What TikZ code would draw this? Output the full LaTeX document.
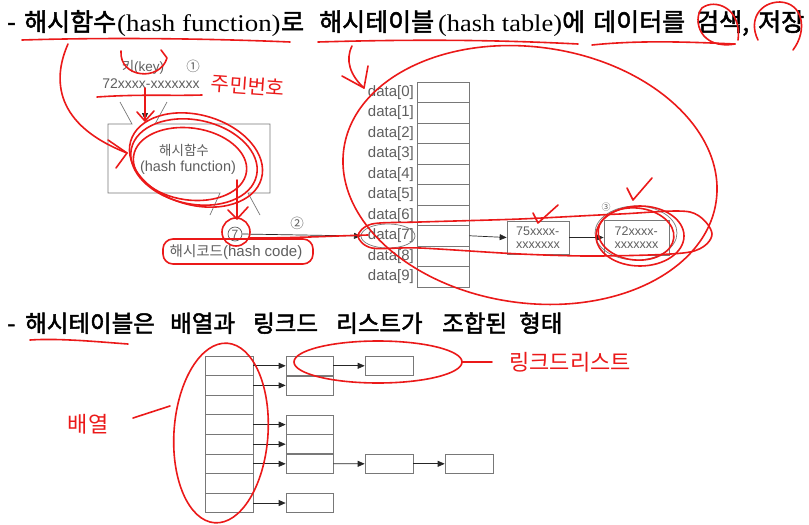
\documentclass[tikz,border=0pt]{standalone}
\usepackage{fontspec}
\setmainfont{Liberation Sans}
\newfontfamily\kr{Noto Sans CJK KR}
\newfontfamily\krb{Noto Sans CJK KR}[FakeBold=2]
\newfontfamily\tser{Liberation Serif}
\usetikzlibrary{arrows.meta}
\definecolor{txtgray}{RGB}{95,95,95}
\definecolor{linegray}{RGB}{120,120,120}
\definecolor{redc}{RGB}{235,25,25}
\tikzset{
  gt/.style={text=txtgray, font=\fontsize{15}{15}\selectfont, inner sep=0pt},
  gk/.style={text=txtgray, font=\kr\fontsize{13.5}{13.5}\selectfont, inner sep=0pt},
  cellbox/.style={draw=linegray, line width=0.7pt, inner sep=0pt},
  arr/.style={draw=black!85, line width=0.7pt, -{Triangle[length=7pt,width=6pt]}},
  rd/.style={draw=redc, line width=1.6pt, line cap=round, line join=round},
  ttl/.style={font=\krb\fontsize{25}{25}\selectfont, inner sep=0pt, anchor=base west},
  ttlb/.style={font=\krb\fontsize{23.5}{23.5}\selectfont, inner sep=0pt, anchor=base west},
  tlat/.style={font=\tser\fontsize{24}{24}\selectfont, inner sep=0pt, anchor=base west},
  hand/.style={text=redc, font=\kr\fontsize{20}{20}\selectfont, inner sep=0pt},
}
\begin{document}
\begin{tikzpicture}[x=1pt,y=-1pt]
\useasboundingbox (0,0) rectangle (809,525);
\fill[white] (0,0) rectangle (809,525);

% ---------- title line 1
\node[ttl] (t0) at (7,31) {-};
\node[ttl] (t1) at (24,31) {해시함수};
\node[tlat] (t2) at (117,31) {\scalebox{1.12}[1]{(hash function)}};
\node[ttl] (t3) at (281,31) {로};
\node[ttl] (t4) at (319,31) {해시테이블};
\node[tlat] (t5) at (438,31) {\scalebox{1.1}[1]{(hash table)}};
\node[ttl] (t6) at (562,31) {에};
\node[ttl] (t7) at (593,31) {데이터를};
\node[ttl] (t8) at (696,31) {검색,};
\node[ttl] (t9) at (758,31) {저장};

% ---------- key and hash function
\node[gk] (key) at (143,67) {키{\fontspec{Liberation Sans}(key)}};
\node[gk] (c1) at (193,66) {①};
\node[gt, font=\fontsize{14}{14}\selectfont] (kv) at (151,84) {72xxxx-xxxxxxx};
\coordinate (kin) at (145,120);
\draw[arr] (145,96) -- (kin);

\draw[linegray, line width=0.7pt] (120,102) -- (132,124) -- (108,124) -- (108,193) -- (220,193) -- (210,215);
\draw[linegray, line width=0.7pt] (167,102) -- (155,124) -- (270,124) -- (270,193) -- (248,193) -- (260,215);
\node[gk] (hf1) at (184,150) {해시함수};
\node[gt, font=\fontsize{14.5}{14.5}\selectfont] (hf2) at (188,168) {(hash function)};

\node[circle, draw=txtgray, line width=0.7pt, inner sep=1.2pt, text=txtgray, font=\fontsize{12}{12}\selectfont] (c7) at (235,234) {7};
\node[gk, font=\kr\fontsize{14.5}{14.5}\selectfont] (hc) at (236,252) {해시코드{\fontspec{Liberation Sans}\fontsize{15}{15}\selectfont(hash code)}};
\node[gk] (c2) at (297,223) {②};

% ---------- data array
\foreach \i in {0,...,9}{
  \node[cellbox, minimum width=52pt, minimum height=20.5pt] (d\i) at (443,{92.25+20.5*\i}) {};
  \node[gt, anchor=east] (l\i) at (414,{92.25+20.5*\i}) {data[\i]};
}
\draw[linegray, line width=0.7pt] (388,236) ellipse (27 and 12);
\coordinate (l7in) at (361,236);
\draw[arr] (c7.east) -- (l7in);

\node[cellbox, minimum width=62pt, minimum height=33pt, align=left, text=txtgray,
      font=\fontsize{12.5}{12.5}\selectfont] (e1) at (538,237.5) {75xxxx-\\xxxxxxx};
\node[cellbox, minimum width=65pt, minimum height=35pt, align=left, text=txtgray,
      font=\fontsize{12.5}{12.5}\selectfont] (e2) at (636.5,237.5) {72xxxx-\\xxxxxxx};
\draw[linegray, line width=0.7pt] (636,233) ellipse (41 and 27);
\node[gk, font=\kr\fontsize{9}{9}\selectfont] (c3) at (606,207) {③};
\draw[arr] (d7.east) -- (e1.west);
\draw[arr] (e1.east) -- (e2.west);

% ---------- title line 2
\node[ttlb] (s0) at (7,332) {-};
\node[ttlb] (s1) at (25,332) {해시테이블은};
\node[ttlb] (s2) at (170,332) {배열과};
\node[ttlb] (s3) at (253,332) {링크드};
\node[ttlb] (s4) at (336,332) {리스트가};
\node[ttlb] (s5) at (442,332) {조합된};
\node[ttlb] (s6) at (519,332) {형태};

% ---------- bottom array and lists
\foreach \i in {0,...,7}{
  \node[cellbox, minimum width=48pt, minimum height=19.6pt] (b\i) at (229,{356+19.6*(\i+0.5)}) {};
}
\foreach \i in {0,1,3,4,5,7}{
  \node[cellbox, minimum width=47pt, minimum height=19pt] (n\i) at (309.5,{356+19.6*(\i+0.5)}) {};
  \draw[arr] (b\i.east) -- (n\i.west);
}
\node[cellbox, minimum width=48pt, minimum height=19pt] (m0) at (389,365.8) {};
\node[cellbox, minimum width=48pt, minimum height=19pt] (m5) at (389,463.8) {};
\node[cellbox, minimum width=48pt, minimum height=19pt] (p5) at (469,463.8) {};
\draw[arr] (n0.east) -- (m0.west);
\draw[arr] (n5.east) -- (m5.west);
\draw[arr] (m5.east) -- (p5.west);

% ---------- red annotations
\draw[rd] (22,40) .. controls (120,37) and (220,39) .. (290,42);
\draw[rd] (318,42) .. controls (420,39) and (500,40) .. (578,44);
\draw[rd] (592,45) .. controls (640,40) and (690,42) .. (735,44);
\draw[rd] (735,44) .. controls (700,50) and (692,20) .. (702,8) .. controls (715,-2) and (742,8) .. (738,40);
\draw[rd] (758,40) .. controls (748,20) and (760,2) .. (780,2) .. controls (803,3) and (808,30) .. (793,50);
\draw[rd] (68,44) .. controls (52,80) and (55,125) .. (127,153);
\draw[rd] (108,140) -- (127,153) -- (116,168);
\draw[rd] (352,46) .. controls (345,60) and (350,75) .. (364,88);
\draw[rd] (342,76) -- (364,88) -- (368,66);
\draw[rd, rotate around={-8:(530,175)}] (530,175) ellipse (188 and 128);
\draw[rd] plot[smooth cycle] coordinates {(358,236) (372,224) (420,222) (520,219) (620,214) (690,212) (712,234) (690,252) (600,256) (520,254) (420,248) (372,248)};
\draw[rd] (640,236) ellipse (44 and 30);
\draw[rd, rotate around={-6:(636,234)}] (636,234) ellipse (38 and 26);
\draw[rd] (533,213) -- (538,223) -- (558,205);
\draw[rd] (627,188) -- (633,200) -- (652,178);
\draw[rd] (121,51) .. controls (119,78) and (160,82) .. (167,58) -- (161,50);
\draw[rd] (97,97) .. controls (140,94) and (170,96) .. (202,95);
\draw[rd] (145,88) -- (145,120);
\draw[rd] (137,112) -- (145,121) -- (154,111);
\node[hand, rotate=-4] (jm) at (248,86) {주민번호};
\draw[rd, rotate around={-12:(194,162)}] (194,162) ellipse (64 and 42);
\draw[rd, rotate around={-8:(190,164)}] (190,164) ellipse (57 and 36);
\draw[rd, rotate around={-16:(196,160)}] (196,160) ellipse (68 and 45);
\draw[rd] (237,180) -- (237,218);
\draw[rd] (228,210) -- (237,219) -- (248,207);
\draw[rd] (236,232) circle (14);
\draw[rd, rounded corners=10pt] (163,239) rectangle (313,264);
\draw[rd] (250,238) .. controls (300,238) and (330,236) .. (368,235);
\draw[rd] (30,340) .. controls (60,338) and (100,342) .. (128,344);
\draw[rd, rotate around={-4:(221,433)}] (221,433) ellipse (47 and 90);
\node[hand, font=\kr\fontsize{22}{22}\selectfont] (be) at (88,424) {배열};
\draw[rd] (133,418) -- (170,406);
\draw[rd] (378,362) ellipse (84 and 21);
\draw[rd] (462,362) -- (492,362);
\node[hand, font=\kr\fontsize{22}{22}\selectfont] (lk) at (570,362) {링크드리스트};
\end{tikzpicture}
\end{document}
